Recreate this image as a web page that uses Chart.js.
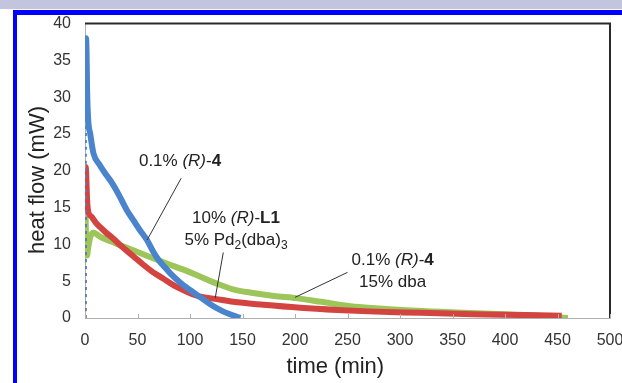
<!DOCTYPE html>
<html>
<head>
<meta charset="utf-8">
<script src="https://cdn.jsdelivr.net/npm/chart.js@4/dist/chart.umd.min.js"></script>
<style>
    body { margin: 0; background: #fff; }
    #strip { position: absolute; left: 0; top: 0; width: 622px; height: 9px; background: #c3c5de; }
    #frame { position: absolute; left: 13px; top: 10px; width: 605px; height: 369px;
             border-top: 5px solid #0000ff; border-left: 4px solid #0000ff; border-bottom: 2px solid #d4daf4; }
    #heat_chart { position: absolute; left: 0; top: 0; }
</style>
</head>
<body>
<div id="strip"></div>
<div id="frame"></div>
<canvas id="heat_chart" width="622" height="383"></canvas>
<script>
// 0.1% (R)-4
var blueTime = [0, 0.3, 0.6, 1, 1.5, 2, 3, 5, 8, 14, 20, 26, 32, 40, 46, 52, 59, 65, 70, 76, 81, 90, 100, 110, 120, 130, 140, 148];
var blueFlow = [0, 20, 33, 38, 36, 31, 27, 25, 22.4, 20.8, 19.5, 18.3, 16.8, 14.6, 13.3, 12, 10.6, 9, 7.9, 6.9, 6.1, 4.9, 3.8, 2.8, 1.8, 1.0, 0.4, 0];

// 10% (R)-L1 / 5% Pd2(dba)3
var redTime = [0, 0.3, 0.6, 1, 1.5, 2, 3, 6, 10, 14, 20, 26, 35, 46, 55, 65, 74, 85, 95, 103, 110, 124, 141, 170, 205, 240, 270, 320, 370, 420, 454];
var redFlow = [0, 10, 20.5, 20, 18, 16, 14.5, 13.8, 13, 12.4, 11.6, 10.9, 9.7, 8.4, 7.3, 6.2, 5.4, 4.4, 3.7, 3.2, 2.9, 2.6, 2.2, 1.8, 1.4, 1.1, 0.9, 0.7, 0.5, 0.4, 0.3];

// 0.1% (R)-4 / 15% dba
var greenTime = [0, 0.3, 0.6, 1, 2, 3, 5, 8, 11, 15, 25, 35, 46, 60, 78, 95, 110, 125, 141, 160, 180, 201, 225, 253, 280, 301, 330, 360, 400, 430, 460];
var greenFlow = [0, 7, 13.5, 11, 8.5, 9.5, 11, 11.6, 11.4, 11, 10.4, 9.8, 9.2, 8.4, 7.4, 6.5, 5.6, 4.7, 3.9, 3.4, 3.0, 2.7, 2.2, 1.6, 1.3, 1.1, 0.9, 0.7, 0.5, 0.3, 0];

var xTicks = [0, 50, 100, 150, 200, 250, 300, 350, 400, 450, 500];
var yTicks = [0, 5, 10, 15, 20, 25, 30, 35, 40];

var FONT = '"Liberation Sans", Arial, sans-serif';

function toPoints(t, v) {
    var pts = [];
    for (var i = 0; i < t.length; i++) {
        pts.push({x: t[i], y: v[i]});
    }
    return pts;
}

function makeSet(label, t, v, color) {
    return {
        label: label,
        data: toPoints(t, v),
        borderColor: color,
        backgroundColor: color,
        borderWidth: 6,
        pointRadius: 0,
        cubicInterpolationMode: 'monotone',
        // the first rise at t=0 looks like a dotted column in the original
        segment: {
            borderDash: function (ctx) { return ctx.p0DataIndex < 2 ? [3, 4] : undefined; },
            borderWidth: function (ctx) { return ctx.p0DataIndex < 2 ? 3 : undefined; }
        }
    };
}

// labels and pointers, in data units
var notes = [
    {lines: [[{t: '0.1% '}, {t: '(R)', i: 1}, {t: '-'}, {t: '4', b: 1}]],
     at: [90.5, 21.3], from: [91.6, 19], to: [59.2, 10.6]},
    {lines: [[{t: '10% '}, {t: '(R)', i: 1}, {t: '-'}, {t: 'L1', b: 1}],
             [{t: '5% Pd'}, {t: '2', sub: 1}, {t: '(dba)'}, {t: '3', sub: 1}]],
     at: [143.8, 13.5], from: [131.7, 8.9], to: [124, 2.7]},
    {lines: [[{t: '0.1% '}, {t: '(R)', i: 1}, {t: '-'}, {t: '4', b: 1}],
             [{t: '15% dba'}]],
     at: [293, 7.8], from: [250, 6.2], to: [200, 2.8]}
];

function partFont(p, size) {
    return (p.i ? 'italic ' : '') + (p.b ? 'bold ' : '') + (p.sub ? Math.round(size * 0.7) : size) + 'px ' + FONT;
}

function drawRich(ctx, parts, cx, cy, size) {
    var w = 0;
    parts.forEach(function (p) {
        ctx.font = partFont(p, size);
        w += ctx.measureText(p.t).width;
    });
    var x = cx - w / 2;
    parts.forEach(function (p) {
        ctx.font = partFont(p, size);
        ctx.fillText(p.t, x, cy + (p.sub ? size * 0.3 : 0));
        x += ctx.measureText(p.t).width;
    });
}

var decor = {
    id: 'decor',
    afterDraw: function (chart) {
        var ctx = chart.ctx;
        var a = chart.chartArea;
        var xs = chart.scales.x;
        var ys = chart.scales.y;
        ctx.save();

        // top / right frame of the plot
        ctx.strokeStyle = '#2a2a2a';
        ctx.lineWidth = 2;
        ctx.beginPath();
        ctx.moveTo(a.left, a.top);
        ctx.lineTo(a.right, a.top);
        ctx.lineTo(a.right, a.bottom);
        ctx.stroke();

        // small inner ticks on the time axis
        ctx.strokeStyle = '#b0b0b0';
        ctx.lineWidth = 1;
        xTicks.forEach(function (v) {
            var px = Math.round(xs.getPixelForValue(v)) + 0.5;
            ctx.beginPath();
            ctx.moveTo(px, a.bottom);
            ctx.lineTo(px, a.bottom - 4);
            ctx.stroke();
        });

        // annotations
        ctx.fillStyle = '#222';
        ctx.textBaseline = 'middle';
        ctx.textAlign = 'left';
        notes.forEach(function (n) {
            var cx = xs.getPixelForValue(n.at[0]);
            var cy = ys.getPixelForValue(n.at[1]);
            n.lines.forEach(function (line, k) {
                drawRich(ctx, line, cx, cy + k * 22, 17);
            });
            ctx.strokeStyle = '#333';
            ctx.lineWidth = 1;
            ctx.beginPath();
            ctx.moveTo(xs.getPixelForValue(n.from[0]), ys.getPixelForValue(n.from[1]));
            ctx.lineTo(xs.getPixelForValue(n.to[0]), ys.getPixelForValue(n.to[1]));
            ctx.stroke();
        });
        ctx.restore();
    }
};

new Chart(document.getElementById('heat_chart').getContext('2d'), {
    type: 'line',
    data: {
        datasets: [
            makeSet('0.1% (R)-4', blueTime, blueFlow, '#4a84cc'),
            makeSet('10% (R)-L1, 5% Pd2(dba)3', redTime, redFlow, '#d3433f'),
            makeSet('0.1% (R)-4, 15% dba', greenTime, greenFlow, '#9dc65a')
        ]
    },
    options: {
        responsive: false,
        animation: false,
        layout: {padding: {left: 0, top: 22, right: 12, bottom: 0}},
        plugins: {
            legend: {display: false},
            tooltip: {enabled: false}
        },
        scales: {
            x: {
                type: 'linear',
                min: 0,
                max: 500,
                afterBuildTicks: function (scale) {
                    scale.ticks = xTicks.map(function (v) { return {value: v}; });
                },
                afterFit: function (scale) {
                    scale.height = 65;
                    // the "500" label is allowed to run off the edge, as in the original
                    scale.paddingRight = 0;
                    scale.paddingLeft = 0;
                },
                grid: {display: false, drawTicks: false},
                border: {display: true, color: '#b0b0b0', width: 1},
                ticks: {padding: 13, color: '#333', font: {family: FONT, size: 16}},
                // trailing spaces nudge the title a little left of centre, like the original
                title: {display: true, text: 'time (min)    ', color: '#222',
                        font: {family: FONT, size: 22}, padding: {top: 0, bottom: 3}}
            },
            y: {
                type: 'linear',
                min: 0,
                max: 40,
                afterBuildTicks: function (scale) {
                    scale.ticks = yTicks.map(function (v) { return {value: v}; });
                },
                afterFit: function (scale) { scale.width = 85; },
                grid: {display: false, drawTicks: false},
                border: {display: true, color: '#b0b0b0', width: 1},
                ticks: {padding: 14, color: '#333', font: {family: FONT, size: 16}},
                title: {display: true, text: 'heat flow (mW)   ', color: '#222',
                        font: {family: FONT, size: 22}, padding: {top: 25, bottom: 0}}
            }
        }
    },
    plugins: [decor]
});
</script>
</body>
</html>
